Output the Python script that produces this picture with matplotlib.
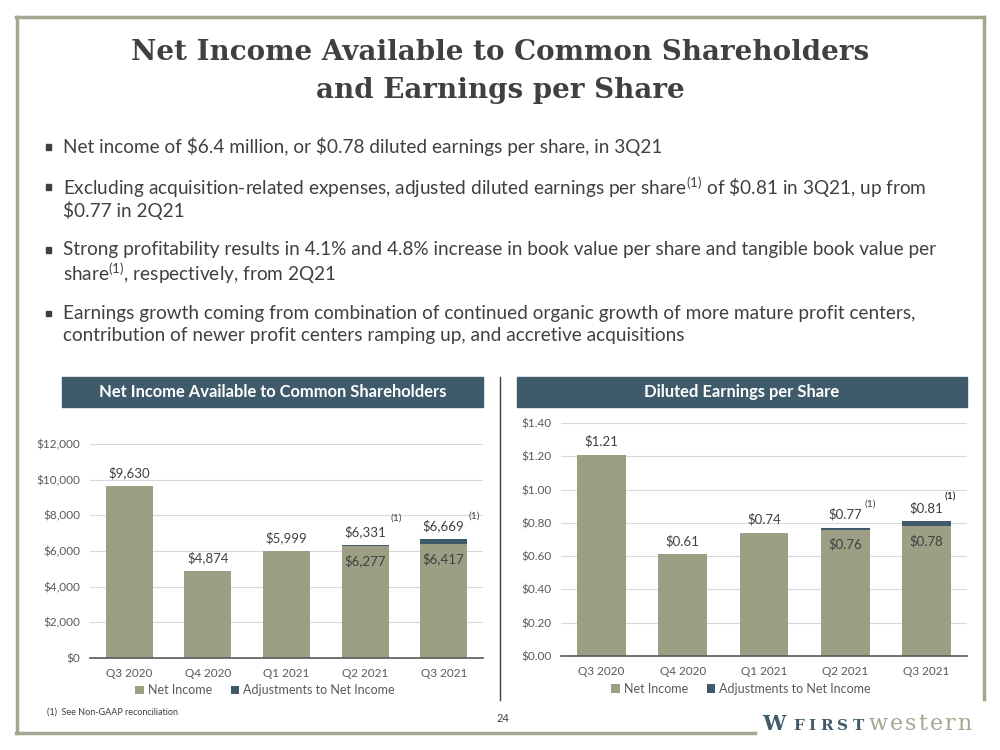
import matplotlib
matplotlib.use("Agg")
import matplotlib.pyplot as plt
from matplotlib.patches import Rectangle
from matplotlib.lines import Line2D

plt.rcParams['font.family'] = ['Lato', 'DejaVu Sans']
plt.rcParams['mathtext.fontset'] = 'custom'
plt.rcParams['mathtext.rm'] = 'Lato'
plt.rcParams['mathtext.it'] = 'Lato'
plt.rcParams['mathtext.bf'] = 'Lato:bold'

# ---------------- data ----------------
quarters = ["Q3 2020", "Q4 2020", "Q1 2021", "Q2 2021", "Q3 2021"]
ni_values = [9630, 4874, 5999, 6277, 6417]
ni_adjust = [0, 0, 0, 54, 252]
ni_totals = [9630, 4874, 5999, 6331, 6669]
ni_ticks = [0, 2000, 4000, 6000, 8000, 10000, 12000]

eps_values = [1.21, 0.61, 0.74, 0.76, 0.78]
eps_adjust = [0.0, 0.0, 0.0, 0.01, 0.03]
eps_totals = [1.21, 0.61, 0.74, 0.77, 0.81]
eps_ticks = [0.0, 0.2, 0.4, 0.6, 0.8, 1.0, 1.2, 1.4]

title_lines = ["Net Income Available to Common Shareholders",
               "and Earnings per Share"]
bullets = [
    ["Net income of \\$6.4 million, or \\$0.78 diluted earnings per share, in 3Q21"],
    ["Excluding acquisition-related expenses, adjusted diluted earnings per share$^{(1)}$ of \\$0.81 in 3Q21, up from",
     "\\$0.77 in 2Q21"],
    ["Strong profitability results in 4.1% and 4.8% increase in book value per share and tangible book value per",
     "share$^{(1)}$, respectively, from 2Q21"],
    ["Earnings growth coming from combination of continued organic growth of more mature profit centers,",
     "contribution of newer profit centers ramping up, and accretive acquisitions"],
]

OLIVE = "#9C9F84"
SLATE = "#3F5B6B"
FRAME = "#A4A78F"
TXT = "#404040"
TICK = "#595959"

W, H = 1000, 750
fig = plt.figure(figsize=(10, 7.5), dpi=100)


def fx(x):
    return x / W


def fy(y):
    return 1 - y / H


def ax_px(x0, y0, x1, y1):
    return fig.add_axes([fx(x0), fy(y1), (x1 - x0) / W, (y1 - y0) / H])


# ---------------- frame ----------------
fig.add_artist(Line2D([fx(17), fx(17)], [fy(17), fy(733)], color=FRAME, lw=2.5))
fig.add_artist(Line2D([fx(16), fx(984)], [fy(17), fy(17)], color=FRAME, lw=2.5))
fig.add_artist(Line2D([fx(983.5), fx(983.5)], [fy(17), fy(699)], color=FRAME, lw=2.5))
fig.add_artist(Line2D([fx(16), fx(755)], [fy(733), fy(733)], color=FRAME, lw=2.5))

# ---------------- title ----------------
fig.text(0.5, fy(53), title_lines[0], ha='center', va='center', fontsize=20,
         fontweight='bold', family=['DejaVu Serif'], color=TXT)
fig.text(0.5, fy(90), title_lines[1], ha='center', va='center', fontsize=20,
         fontweight='bold', family=['DejaVu Serif'], color=TXT)

# ---------------- bullets ----------------
bullet_y = [147, 187, 250, 313]
for by, lines in zip(bullet_y, bullets):
    fig.add_artist(Rectangle((fx(46), fy(by + 2.5)), 5 / W, 5 / H, color=TXT,
                             transform=fig.transFigure))
    for i, ln in enumerate(lines):
        fig.text(fx(63), fy(by + 23 * i), ln, ha='left', va='center',
                 fontsize=13.7, color=TXT)

# ---------------- header bars ----------------
for (x0, x1, label) in [(62, 483, "Net Income Available to Common Shareholders"),
                        (517, 967, "Diluted Earnings per Share")]:
    fig.add_artist(Rectangle((fx(x0), fy(407)), (x1 - x0) / W, 30 / H,
                             color=SLATE, transform=fig.transFigure))
    fig.text(fx((x0 + x1) / 2), fy(392), label, ha='center', va='center',
             fontsize=11.9, fontweight='bold', color='white')

# divider
fig.add_artist(Line2D([fx(500), fx(500)], [fy(377), fy(700)], color='#404040', lw=1))


def draw_chart(ax, vals, adj, totals, ticks, fmt, ylim, leg_x, leg_y):
    x = list(range(len(quarters)))
    ax.bar(x, vals, width=0.6, color=OLIVE, label="Net Income", zorder=3)
    ax.bar(x, adj, width=0.6, bottom=vals, color=SLATE,
           label="Adjustments to Net Income", zorder=3)
    ax.set_xlim(-0.5, len(quarters) - 0.5)
    ax.set_ylim(*ylim)
    ax.set_yticks(ticks)
    ax.set_yticklabels([fmt(t) for t in ticks])
    ax.set_xticks(x)
    ax.set_xticklabels(quarters)
    ax.tick_params(axis='both', length=0, labelsize=8.5, colors=TICK)
    ax.tick_params(axis='x', pad=7)
    ax.tick_params(axis='y', pad=7)
    ax.grid(axis='y', color='#D9D9D9', lw=0.8, zorder=0)
    for s in ['top', 'right', 'left']:
        ax.spines[s].set_visible(False)
    ax.spines['bottom'].set_color('#595959')
    ax.spines['bottom'].set_linewidth(1.2)
    ax.spines['bottom'].set_zorder(4)
    for i in x:
        ax.annotate(fmt(totals[i]), (i, totals[i]), xytext=(0, 5),
                    textcoords='offset points', ha='center', va='bottom',
                    fontsize=9.5, color=TXT, annotation_clip=False)
        if adj[i] > 0:
            ax.annotate(fmt(vals[i]), (i, vals[i]), xytext=(0, -6),
                        textcoords='offset points', ha='center', va='top',
                        fontsize=9.5, color=TXT, annotation_clip=False)
    ax.legend(loc='upper center', bbox_to_anchor=(leg_x, leg_y), ncol=2,
              frameon=False, fontsize=9, handlelength=0.7, handleheight=0.7,
              handletextpad=0.3, columnspacing=1.5, labelcolor=TICK,
              borderaxespad=0)
    return ax


def fmt_ni(v):
    return "${:,.0f}".format(v)


def fmt_eps(v):
    return "${:.2f}".format(v)


ax1 = ax_px(90, 444, 483, 658)
draw_chart(ax1, ni_values, ni_adjust, ni_totals, ni_ticks, fmt_ni, (0, 12000), 0.445, -0.10)
ax1.annotate("(1)", (3, ni_totals[3]), xytext=(18, 16), textcoords='offset points',
             ha='left', va='bottom', fontsize=7.5, color=TXT, annotation_clip=False)
ax1.annotate("(1)", (4, ni_totals[4]), xytext=(18, 13), textcoords='offset points',
             ha='left', va='bottom', fontsize=7.5, color=TXT, annotation_clip=False)

ax2 = ax_px(561, 423, 967, 656)
draw_chart(ax2, eps_values, eps_adjust, eps_totals, eps_ticks, fmt_eps, (0, 1.4), 0.443, -0.095)
ax2.annotate("(1)", (3, eps_totals[3]), xytext=(14, 14), textcoords='offset points',
             ha='left', va='bottom', fontsize=7.5, color=TXT, annotation_clip=False)
ax2.annotate("(1)", (4, eps_totals[4]), xytext=(13, 15), textcoords='offset points',
             ha='left', va='bottom', fontsize=7.5, color='black', annotation_clip=False)

# ---------------- footer ----------------
fig.text(fx(47), fy(712), "(1)  See Non-GAAP reconciliation", ha='left', va='center',
         fontsize=6.5, color=TXT)
fig.text(fx(503), fy(718), "24", ha='center', va='center', fontsize=8, color=TXT)

# logo
renderer = fig.canvas.get_renderer()


def tracked(x, y, s, track, **kw):
    for ch in s:
        t = fig.text(fx(x), fy(y), ch, ha='left', va='baseline', **kw)
        bb = t.get_window_extent(renderer)
        x += bb.width + track
    return x


fig.text(fx(762), fy(730), "W", ha='left', va='baseline', fontsize=15,
         fontweight='bold', family=['DejaVu Serif'], color=SLATE)
tracked(793, 730, "FIRST", 4.5, fontsize=11, fontweight='bold',
        family=['DejaVu Serif'], color=SLATE)
tracked(869, 730, "western", 2.0, fontsize=16, family=['DejaVu Serif'],
        color=FRAME)

fig.savefig("out.png", dpi=100, facecolor='white')
